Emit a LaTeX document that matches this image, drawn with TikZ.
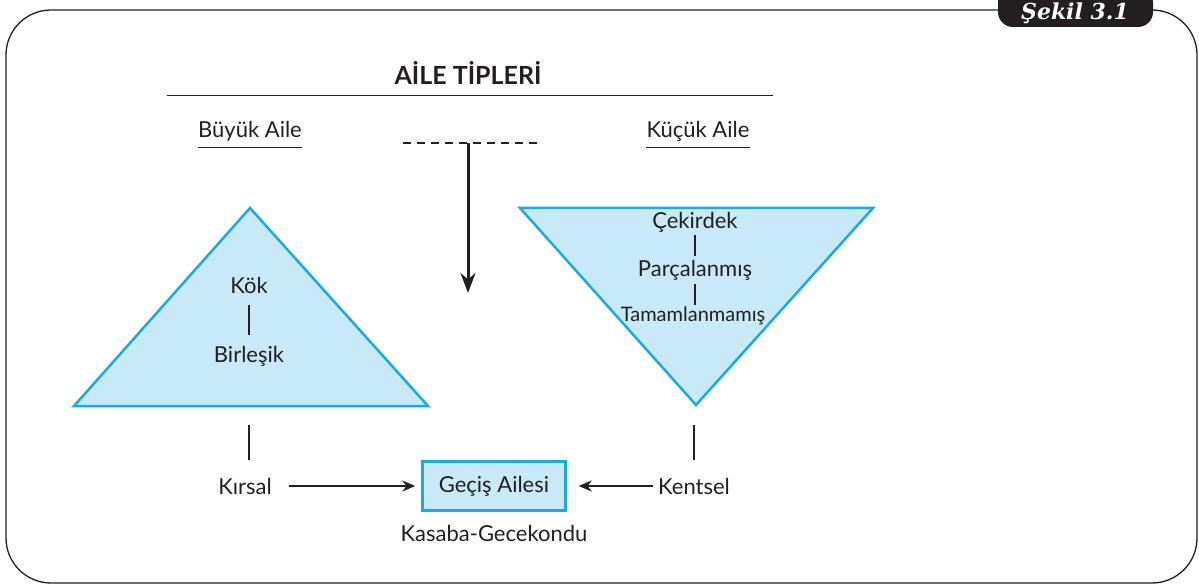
\documentclass[tikz,border=0pt]{standalone}
\usepackage{fontspec}
\setmainfont{Lato}
\newfontfamily\tabfont{DejaVu Serif}
\usepackage{tikz}
\usetikzlibrary{positioning, arrows.meta, calc}
\definecolor{ailefill}{HTML}{C7E9F8}
\definecolor{ailecyan}{HTML}{1DAAE2}
\definecolor{ailetext}{HTML}{231F20}

\tikzset{
  lbl/.style={text=ailetext, font=\fontsize{22}{26}\selectfont, inner sep=0pt},
  tri/.style={draw=ailecyan, fill=ailefill, line width=2.5pt, line join=miter},
  bar/.style={draw=ailetext, line width=2.8pt},
  arr/.style={draw=ailetext, line width=1.5pt, -{Stealth[length=13pt,width=11pt]}},
}

\begin{document}
\begin{tikzpicture}[x=1pt, y=-1pt]
	\useasboundingbox (0,0) rectangle (1199,585);
	\clip (0,0) rectangle (1199,585);
	% frame and tab
	\draw[ailetext, line width=1.3pt, rounded corners=45pt]
		(1000,10) -- (6,10) -- (6,583) -- (1197,583) -- (1197,10) -- (1150,10);
	\fill[ailetext, rounded corners=15pt] (998,-12) rectangle (1153,27);
	\node[text=white, inner sep=0pt, font=\tabfont\bfseries\itshape\fontsize{22}{26}\selectfont] (sekil) at (1075,13) {Şekil 3.1};
	
	% title
	\node[lbl, font=\bfseries\fontsize{25}{30}\selectfont] (title) at (468,73) {AİLE TİPLERİ};
	\coordinate (hl1) at (167,96);
	\coordinate (hl2) at (773,96);
	\draw[ailetext, line width=1pt] (hl1) -- (hl2);
	
	\node[lbl] (buyuk) at (250,131) {Büyük Aile};
	\node[lbl] (kucuk) at (698,131) {Küçük Aile};
	\draw[ailetext, line width=1pt] ([yshift=-6pt]buyuk.south west) -- ([yshift=-6pt]buyuk.south east);
	\draw[ailetext, line width=1pt] ([yshift=-6pt]kucuk.south west) -- ([yshift=-6pt]kucuk.south east);
	
	% dashed line and arrow
	\coordinate (d1) at (403,143);
	\coordinate (d2) at (540,143);
	\coordinate (top) at (468,143);
	\coordinate (bot) at (468,293);
	\draw[ailetext, line width=1.2pt, dash pattern=on 8pt off 6pt] (d1) -- (d2);
	\draw[ailetext, line width=3pt, -{Stealth[length=20pt,width=15pt]}] (top) -- (bot);
	
	% triangles
	\draw[tri] (250,208) -- (428,406) -- (74,406) -- cycle;
	\draw[tri] (520,208) -- (873,208) -- (696,405) -- cycle;
	
	\node[lbl] (kok) at (249,285) {Kök};
	\node[lbl] (birlesik) at (249,356) {Birleşik};
	\draw[bar] (249,305) -- (249,335);
	
	\node[lbl] (cekirdek) at (695,222) {Çekirdek};
	\node[lbl] (parca) at (695,270) {Parçalanmış};
	\node[lbl, font=\fontsize{20}{24}\selectfont] (tamam) at (693,316) {Tamamlanmamış};
	\draw[bar] (695,235) -- (695,256);
	\draw[bar] (695,284) -- (695,305);
	
	% bottom
	\draw[bar] (249,425) -- (249,460);
	\draw[bar] (694,425) -- (694,460);
	\node[lbl] (kirsal) at (245,486) {Kırsal};
	\node[lbl] (kentsel) at (694,486) {Kentsel};
	\node[lbl, draw=ailecyan, fill=ailefill, line width=2.5pt, minimum width=143pt, minimum height=49pt] (gecis) at (494,486) {Geçiş Ailesi};
	\node[lbl, below=13pt of gecis] (kasaba) {Kasaba-Gecekondu};
	\draw[arr, shorten <=17pt, shorten >=6pt] (kirsal) -- (gecis);
	\draw[arr, shorten <=5pt, shorten >=12pt] (kentsel) -- (gecis);
\end{tikzpicture}
\end{document}
